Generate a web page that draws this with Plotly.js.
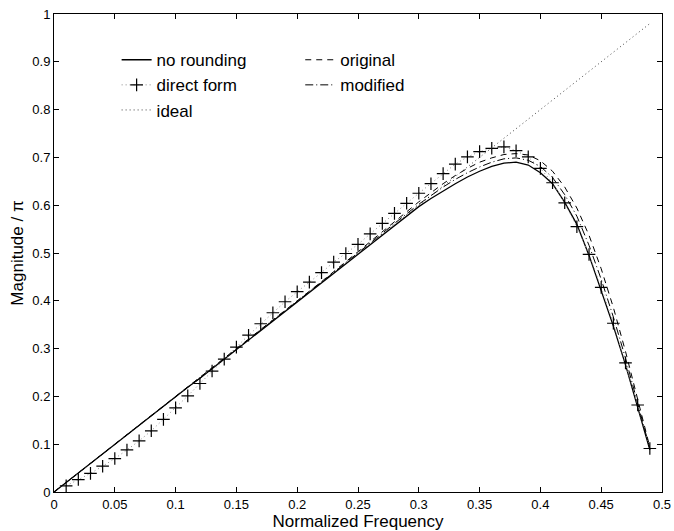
<!DOCTYPE html>
<html>
<head>
<meta charset="utf-8">
<script src="https://cdn.plot.ly/plotly-3.0.1.min.js"></script>
<style>html,body{margin:0;padding:0;background:#fff;}#chart{width:674px;height:531px;}</style>
</head>
<body>
<div id="chart"></div>
<script>
// Normalized frequency grid for the continuous curves
const freq = [0,0.01,0.02,0.03,0.04,0.05,0.06,0.07,0.08,0.09,0.10,0.11,0.12,0.13,0.14,0.15,0.16,0.17,0.18,0.19,0.20,0.21,0.22,0.23,0.24,0.25,0.26,0.27,0.28,0.29,0.30,0.31,0.32,0.33,0.34,0.35,0.36,0.37,0.38,0.39,0.40,0.41,0.42,0.43,0.44,0.45,0.46,0.47,0.48,0.49];

const noRounding = [0,0.020,0.040,0.060,0.080,0.099,0.119,0.139,0.159,0.179,0.199,0.219,0.238,0.258,0.278,0.298,0.318,0.338,0.357,0.377,0.397,0.417,0.437,0.457,0.478,0.498,0.518,0.538,0.558,0.578,0.597,0.614,0.630,0.645,0.659,0.671,0.681,0.688,0.690,0.684,0.668,0.645,0.606,0.560,0.495,0.423,0.347,0.266,0.178,0.088];

const original = [0,0.020,0.040,0.060,0.080,0.099,0.119,0.139,0.159,0.179,0.199,0.219,0.239,0.259,0.279,0.299,0.319,0.339,0.359,0.379,0.399,0.419,0.440,0.461,0.482,0.503,0.524,0.545,0.566,0.587,0.607,0.626,0.645,0.662,0.677,0.690,0.699,0.706,0.708,0.705,0.693,0.671,0.638,0.594,0.537,0.467,0.386,0.294,0.196,0.094];

const modified = [0,0.020,0.040,0.060,0.080,0.099,0.119,0.139,0.159,0.179,0.199,0.219,0.238,0.258,0.278,0.298,0.318,0.338,0.358,0.378,0.398,0.418,0.438,0.459,0.480,0.500,0.521,0.541,0.562,0.582,0.602,0.620,0.638,0.654,0.668,0.680,0.690,0.697,0.699,0.694,0.681,0.658,0.622,0.577,0.516,0.445,0.366,0.280,0.187,0.091];

// Direct form samples (+ markers)
const directFreq = [0.01,0.02,0.03,0.04,0.05,0.06,0.07,0.08,0.09,0.10,0.11,0.12,0.13,0.14,0.15,0.16,0.17,0.18,0.19,0.20,0.21,0.22,0.23,0.24,0.25,0.26,0.27,0.28,0.29,0.30,0.31,0.32,0.33,0.34,0.35,0.36,0.37,0.38,0.39,0.40,0.41,0.42,0.43,0.44,0.45,0.46,0.47,0.48,0.49];
const directForm = [0.013,0.026,0.039,0.054,0.070,0.088,0.107,0.128,0.152,0.176,0.201,0.227,0.253,0.278,0.303,0.328,0.352,0.375,0.398,0.419,0.439,0.459,0.481,0.499,0.518,0.540,0.562,0.583,0.604,0.625,0.645,0.666,0.686,0.701,0.712,0.719,0.722,0.714,0.701,0.677,0.647,0.605,0.555,0.497,0.428,0.353,0.270,0.182,0.091];

// Ideal response
const idealFreq = [0,0.1,0.2,0.3,0.4,0.49];
const ideal = [0,0.2,0.4,0.6,0.8,0.98];

const xTicks = [0,0.05,0.1,0.15,0.2,0.25,0.3,0.35,0.4,0.45,0.5];
const xTickText = ['0','0.05','0.1','0.15','0.2','0.25','0.3','0.35','0.4','0.45','0.5'];
const yTicks = [0,0.1,0.2,0.3,0.4,0.5,0.6,0.7,0.8,0.9,1];
const yTickText = ['0','0.1','0.2','0.3','0.4','0.5','0.6','0.7','0.8','0.9','1'];

const FONT = 'Liberation Sans, Arial, Helvetica, sans-serif';

const traces = [
  {x: freq, y: noRounding, name: 'no rounding', mode: 'lines', line: {color: '#000', width: 1.3, dash: 'solid'}, legend: 'legend', legendrank: 1},
  {x: directFreq, y: directForm, name: 'direct form', mode: 'lines+markers', line: {color: '#888', width: 1, dash: '1px,3px'}, marker: {symbol: 'cross-thin', size: 9, line: {color: '#000', width: 1.2}}, legend: 'legend', legendrank: 2},
  {x: idealFreq, y: ideal, name: 'ideal', mode: 'lines', line: {color: '#444', width: 1, dash: '1px,3px'}, legend: 'legend', legendrank: 3},
  {x: freq, y: original, name: 'original', mode: 'lines', line: {color: '#000', width: 1, dash: '6px,5px'}, legend: 'legend2', legendrank: 1},
  {x: freq, y: modified, name: 'modified', mode: 'lines', line: {color: '#000', width: 1, dash: '8px,3px,1px,3px'}, legend: 'legend2', legendrank: 2}
];

const axisCommon = {
  showline: true, linecolor: '#000', linewidth: 1, mirror: 'ticks',
  ticks: 'inside', ticklen: 5, tickcolor: '#000', tickwidth: 1,
  showgrid: false, zeroline: false,
  tickfont: {family: FONT, size: 13, color: '#000'}
};

const layout = {
  width: 674, height: 531,
  margin: {l: 54, r: 12, t: 14, b: 39},
  paper_bgcolor: '#fff', plot_bgcolor: '#fff',
  font: {family: FONT, color: '#000'},
  xaxis: Object.assign({}, axisCommon, {
    range: [0, 0.5], tickvals: xTicks, ticktext: xTickText,
    title: {text: 'Normalized Frequency', font: {family: FONT, size: 17, color: '#000'}, standoff: 2}
  }),
  yaxis: Object.assign({}, axisCommon, {
    range: [0, 1], tickvals: yTicks, ticktext: yTickText,
    title: {text: 'Magnitude / π', font: {family: FONT, size: 17, color: '#000'}, standoff: 4}
  }),
  legend: {x: 0.103, y: 0.941, xanchor: 'left', yanchor: 'top', bgcolor: 'rgba(0,0,0,0)', borderwidth: 0,
           font: {family: FONT, size: 17, color: '#000'}, itemwidth: 30, tracegroupgap: 0},
  legend2: {x: 0.405, y: 0.941, xanchor: 'left', yanchor: 'top', bgcolor: 'rgba(0,0,0,0)', borderwidth: 0,
           font: {family: FONT, size: 17, color: '#000'}, itemwidth: 30, tracegroupgap: 0},
  showlegend: true
};

Plotly.newPlot('chart', traces, layout, {staticPlot: true, displayModeBar: false});
</script>
</body>
</html>
